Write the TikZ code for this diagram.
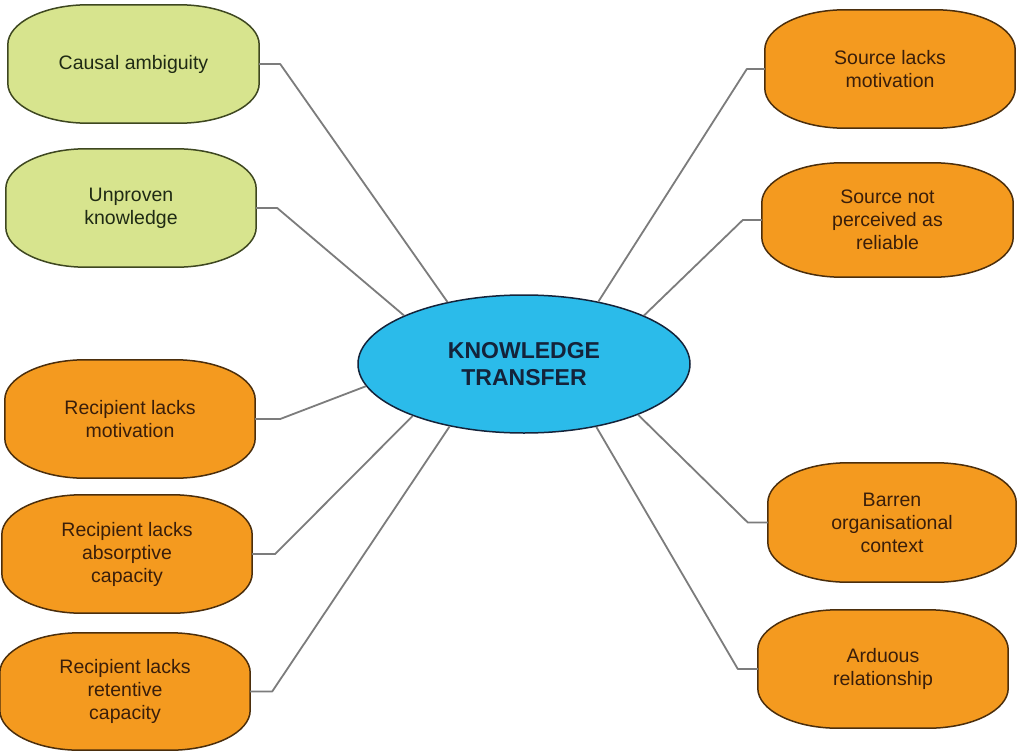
\documentclass[tikz,border=0pt]{standalone}
\usepackage{fontspec}
\setmainfont{Liberation Sans}
\usetikzlibrary{shapes.geometric,backgrounds,calc}
\definecolor{leaf}{HTML}{D7E48E}
\definecolor{leafrim}{HTML}{3E4720}
\definecolor{amber}{HTML}{F49A1F}
\definecolor{amberrim}{HTML}{4B2E0C}
\definecolor{sky}{HTML}{2BBBEA}
\definecolor{navy}{HTML}{14233A}
\definecolor{wire}{HTML}{7C7C7C}
\definecolor{greenink}{HTML}{1F2A14}
\definecolor{brownink}{HTML}{3A1E0A}

% rounded "pill" outline behind a named node: quarter-ellipse corners
% (horizontal radius 80pt, vertical radius 40pt)
\newcommand\drawblob[3]{%
  \path[draw=#3, fill=#2, line width=1.5pt]
    let \p1=(#1.south west), \p2=(#1.north east) in
    (\x1,\y1+40pt) -- (\x1,\y2-40pt)
    .. controls (\x1,\y2-18pt) and (\x1+36pt,\y2) .. (\x1+80pt,\y2)
    -- (\x2-80pt,\y2)
    .. controls (\x2-36pt,\y2) and (\x2,\y2-18pt) .. (\x2,\y2-40pt)
    -- (\x2,\y1+40pt)
    .. controls (\x2,\y1+18pt) and (\x2-36pt,\y1) .. (\x2-80pt,\y1)
    -- (\x1+80pt,\y1)
    .. controls (\x1+36pt,\y1) and (\x1,\y1+18pt) .. (\x1,\y1+40pt) -- cycle;}

\tikzset{
  box/.style={inner sep=0pt, minimum width=250pt, minimum height=118pt,
    align=center, font=\fontsize{19.5}{23}\selectfont},
  greenbox/.style={box, text=greenink},
  orangebox/.style={box, text=brownink},
  hub/.style={ellipse, inner sep=0pt, minimum width=332pt, minimum height=138pt,
    fill=sky, draw=navy, line width=1.5pt, align=center, text=navy,
    font=\fontsize{23}{27}\selectfont\bfseries},
  conn/.style={draw=wire, line width=1.8pt, line join=round},
}

\begin{document}
\begin{tikzpicture}[x=1pt, y=-1pt]
\useasboundingbox (0,0) rectangle (1017,752);

% central topic
\node[hub] (kt) at (524,364) {KNOWLEDGE\\TRANSFER};

% surrounding factors
\node[greenbox,  minimum width=251pt] (ca) at (133.5,64)  {Causal ambiguity};
\node[greenbox]                       (uk) at (131,208)   {Unproven\\knowledge};
\node[orangebox]                      (sm) at (890,69)    {Source lacks\\motivation};
\node[orangebox, minimum width=251pt, minimum height=114pt]
                                      (sr) at (887.5,220) {Source not\\perceived as\\reliable};
\node[orangebox]                      (rm) at (130,419)   {Recipient lacks\\motivation};
\node[orangebox]                      (ra) at (127,554)   {Recipient lacks\\absorptive\\capacity};
\node[orangebox, minimum height=117pt](rr) at (125,691.5) {Recipient lacks\\retentive\\capacity};
\node[orangebox, minimum width=248pt, minimum height=119pt]
                                      (bc) at (892,522.5) {Barren\\organisational\\context};
\node[orangebox]                      (ar) at (883,669)   {Arduous\\relationship};

% box outlines and page background
\begin{scope}[on background layer]
  \fill[white] (0,0) rectangle (1017,752);
  \drawblob{ca}{leaf}{leafrim}
  \drawblob{uk}{leaf}{leafrim}
  \drawblob{sm}{amber}{amberrim}
  \drawblob{sr}{amber}{amberrim}
  \drawblob{rm}{amber}{amberrim}
  \drawblob{ra}{amber}{amberrim}
  \drawblob{rr}{amber}{amberrim}
  \drawblob{bc}{amber}{amberrim}
  \drawblob{ar}{amber}{amberrim}
\end{scope}

% connectors: short horizontal stub, then straight to the ellipse
\draw[conn] (ca.east) -- ++(21,0)  -- (kt.141.5);
\draw[conn] (uk.east) -- ++(21,0)  -- (kt.158.4);
\draw[conn] (sm.west) -- ++(-18,0) -- (kt.40.4);
\draw[conn] (sr.west) -- ++(-19,0) -- (kt.22.8);
\draw[conn] (rm.east) -- ++(25,0)  -- (kt.188.5);
\draw[conn] (ra.east) -- ++(23,0)  -- (kt.205.7);
\draw[conn] (rr.east) -- ++(22,0)  -- (kt.220.6);
\draw[conn] (bc.west) -- ++(-20,0) -- (kt.-24.8);
\draw[conn] (ar.west) -- ++(-20,0) -- (kt.-41);
\end{tikzpicture}
\end{document}
